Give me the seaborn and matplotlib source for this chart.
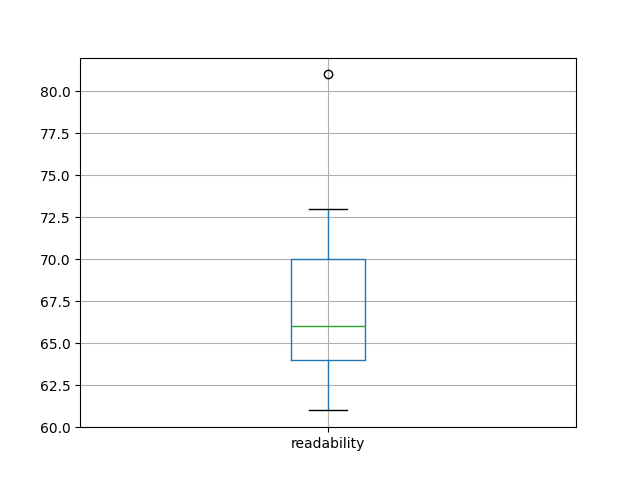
import pandas as pd
import matplotlib
matplotlib.use('Agg')
import matplotlib.pyplot as plt
import seaborn as sns

# Scores de lisibilité
readability = [61, 64, 64, 66, 66, 70, 70, 73, 81]
columns = ['readability']

df = pd.DataFrame({columns[0]: readability})

fig, ax = plt.subplots(figsize=(6.4, 4.8), dpi=100)

sns.boxplot(
    data=df, ax=ax, width=0.15, fill=False, color='#1f77b4', linewidth=1,
    whis=1.5,
    capprops=dict(color='black'),
    medianprops=dict(color='#2ca02c'),
    flierprops=dict(marker='o', markerfacecolor='none', markeredgecolor='black',
                    markersize=6),
)

ax.set_xlim(-0.5, 0.5)
ax.set_ylim(60, 82)
ax.grid(True, color='#b0b0b0', linewidth=0.8)
ax.set_axisbelow('line')
for sp in ax.spines.values():
    sp.set_visible(True)

plt.savefig('out.png')
